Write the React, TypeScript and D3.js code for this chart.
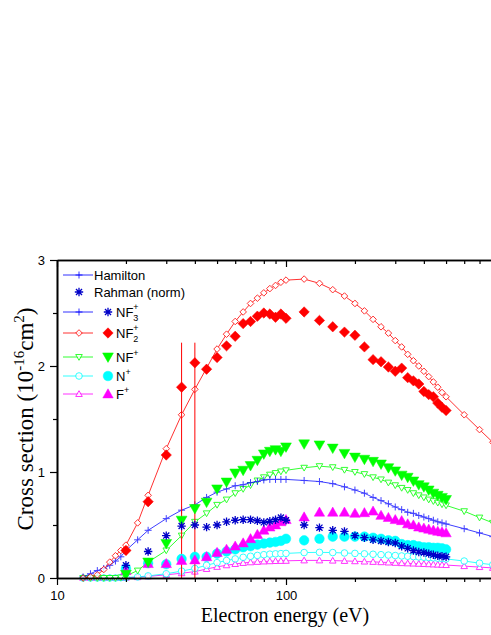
import React, { useEffect, useRef } from "react";
import * as d3 from "d3";

// Hamilton calculation energies (eV)
const calcEnergy = [
  13, 14, 15, 16, 17, 18, 19, 20, 22.5, 25, 30, 35, 40, 45, 50, 55, 60, 65, 70, 75, 80, 85, 90, 95, 100,
  120, 140, 160, 180, 200, 220, 240, 260, 280, 300, 320, 340, 360, 380, 400, 420, 440, 460, 480, 500,
  600, 700, 800, 900, 1000,
];
const nf3Calc = [
  0.01, 0.04, 0.07, 0.09, 0.12, 0.16, 0.2, 0.26, 0.36, 0.45, 0.56, 0.64, 0.69, 0.76, 0.81, 0.84, 0.87, 0.88, 0.9, 0.91, 0.925, 0.93, 0.93, 0.93, 0.93,
  0.92, 0.91, 0.89, 0.86, 0.83, 0.8, 0.76, 0.73, 0.7, 0.67, 0.645, 0.62, 0.61, 0.59, 0.575, 0.56, 0.545, 0.53, 0.52, 0.51,
  0.465, 0.425, 0.39, 0.36, 0.33,
];
const nf2Calc = [
  0, 0.01, 0.03, 0.08, 0.15, 0.21, 0.26, 0.31, 0.52, 0.78, 1.22, 1.54, 1.78, 1.98, 2.16, 2.3, 2.42, 2.51, 2.59, 2.64, 2.69, 2.73, 2.76, 2.79, 2.81,
  2.82, 2.78, 2.72, 2.66, 2.59, 2.52, 2.44, 2.37, 2.31, 2.24, 2.18, 2.11, 2.05, 2.0, 1.95, 1.9, 1.85, 1.8, 1.75, 1.71,
  1.54, 1.4, 1.28, 1.17, 1.08,
];
const nfCalc = [
  0, 0, 0, 0, 0, 0, 0.005, 0.02, 0.07, 0.15, 0.26, 0.4, 0.53, 0.61, 0.69, 0.74, 0.8, 0.84, 0.875, 0.92, 0.95, 0.975, 0.99, 1.005, 1.016,
  1.04, 1.055, 1.045, 1.02, 1.0, 0.98, 0.95, 0.93, 0.9, 0.875, 0.85, 0.83, 0.8, 0.78, 0.76, 0.74, 0.725, 0.71, 0.695, 0.685,
  0.63, 0.57, 0.52, 0.48, 0.44,
];
const nCalc = [
  0, 0, 0, 0, 0, 0, 0.003, 0.005, 0.01, 0.02, 0.04, 0.065, 0.09, 0.12, 0.145, 0.165, 0.18, 0.195, 0.205, 0.213, 0.22, 0.225, 0.228, 0.23, 0.232,
  0.24, 0.242, 0.24, 0.236, 0.232, 0.228, 0.224, 0.22, 0.216, 0.212, 0.208, 0.205, 0.202, 0.199, 0.196, 0.193, 0.19, 0.187, 0.184, 0.18,
  0.16, 0.14, 0.125, 0.11, 0.1,
];
const fCalc = [
  0, 0, 0, 0, 0, 0, 0, 0.003, 0.008, 0.015, 0.03, 0.045, 0.06, 0.085, 0.105, 0.12, 0.132, 0.142, 0.148, 0.152, 0.156, 0.158, 0.16, 0.161, 0.162,
  0.166, 0.166, 0.164, 0.161, 0.158, 0.155, 0.152, 0.149, 0.146, 0.143, 0.14, 0.138, 0.136, 0.134, 0.132, 0.13, 0.128, 0.126, 0.124, 0.122,
  0.112, 0.103, 0.095, 0.088, 0.082,
];

// Rahman (norm) measurements
const measEnergy = [
  20, 25, 30, 35, 40, 45, 50, 55, 60, 65, 70, 75, 80, 85, 90, 95, 100,
  120, 140, 160, 180, 200, 220, 240, 260, 280, 300, 320, 340, 360, 380, 400, 420, 440, 460, 480, 500,
];
const nf3Meas = [
  0.12, 0.25, 0.4, 0.49, 0.5, 0.48, 0.5, 0.53, 0.545, 0.55, 0.55, 0.54, 0.525, 0.535, 0.55, 0.57, 0.545,
  0.5, 0.475, 0.45, 0.44, 0.4, 0.38, 0.36, 0.35, 0.34, 0.33, 0.3, 0.28, 0.26, 0.245, 0.24, 0.23, 0.22, 0.21, 0.205, 0.2,
];
const nf2Meas = [
  0.26, 0.72, 1.16, 1.8, 2.03, 1.97, 2.08, 2.19, 2.28, 2.4, 2.42, 2.47, 2.5, 2.49, 2.46, 2.49, 2.45,
  2.51, 2.43, 2.37, 2.32, 2.29, 2.18, 2.06, 2.04, 1.99, 1.95, 1.98, 1.89, 1.86, 1.83, 1.76, 1.73, 1.71, 1.65, 1.61, 1.58,
];
const nfMeas = [
  0.035, 0.15, 0.325, 0.545, 0.655, 0.715, 0.84, 0.905, 0.99, 1.016, 1.06, 1.11, 1.17, 1.195, 1.21, 1.195, 1.236,
  1.265, 1.255, 1.225, 1.175, 1.14, 1.12, 1.1, 1.075, 1.04, 1.01, 0.97, 0.95, 0.915, 0.88, 0.86, 0.83, 0.8, 0.78, 0.76, 0.74,
];
const nMeas = [
  0.09, 0.14, 0.13, 0.18, 0.2, 0.2, 0.23, 0.25, 0.27, 0.29, 0.3, 0.315, 0.325, 0.334, 0.34, 0.35, 0.37,
  0.355, 0.37, 0.39, 0.39, 0.39, 0.39, 0.38, 0.37, 0.356, 0.35, 0.32, 0.31, 0.31, 0.3, 0.29, 0.29, 0.285, 0.285, 0.28, 0.27,
];
const fMeas = [
  0.07, 0.135, 0.135, 0.165, 0.17, 0.2, 0.24, 0.27, 0.3, 0.33, 0.37, 0.41, 0.45, 0.48, 0.5, 0.53, 0.55,
  0.575, 0.62, 0.62, 0.62, 0.61, 0.615, 0.63, 0.59, 0.57, 0.55, 0.54, 0.51, 0.5, 0.48, 0.47, 0.46, 0.45, 0.44, 0.434, 0.425,
];

// error bars on NF2+ measurement
const errEnergy = [35, 40];
const errLow = [0, 0];
const errHigh = [2.22, 2.22];

const xMajor = [10, 100];
const xMinor = [20, 30, 40, 50, 60, 70, 80, 90, 200, 300, 400, 500, 600, 700, 800, 900];
const yMajor = [0, 1, 2, 3];
const yMinor = [0.5, 1.5, 2.5];

const sans = "Arial, 'Liberation Sans', Helvetica, sans-serif";
const serif = "'Times New Roman', 'Liberation Serif', Times, serif";

const shapePath = (shape: string, r: number) => {
  switch (shape) {
    case "diamond":
      return `M0,${-r}L${r},0L0,${r}L${-r},0Z`;
    case "up":
      return `M0,${-r}L${r},${r * 0.75}L${-r},${r * 0.75}Z`;
    case "down":
      return `M0,${r}L${r},${-r * 0.75}L${-r},${-r * 0.75}Z`;
    case "plus":
      return `M${-r},0H${r}M0,${-r}V${r}`;
    case "star": {
      const k = r * 0.72;
      return `M${-r},0H${r}M0,${-r}V${r}M${-k},${-k}L${k},${k}M${-k},${k}L${k},${-k}`;
    }
    default:
      return d3.symbol(d3.symbolCircle, Math.PI * r * r)() as string;
  }
};

const App = () => {
  const ref = useRef<SVGSVGElement>(null);

  const width = 491;
  const height = 635;
  const margin = { top: 260, left: 57 };
  const plotRight = 515; // frame continues past the cropped right edge
  const plotBottom = 578;

  useEffect(() => {
    const svg = d3.select(ref.current);
    svg.selectAll("*").remove();

    const x = d3.scaleLog().domain([10, 1000]).range([margin.left, plotRight]);
    const y = d3.scaleLinear().domain([0, 3]).range([plotBottom, margin.top]);

    const mark = (
      g: any,
      xs: number[],
      ys: number[],
      shape: string,
      r: number,
      color: string,
      filled: boolean
    ) => {
      g.selectAll(null)
        .data(ys)
        .enter()
        .append("path")
        .attr("transform", (d: number, i: number) => `translate(${x(xs[i])},${y(d)})`)
        .attr("d", shapePath(shape, r))
        .attr("fill", shape === "plus" || shape === "star" ? "none" : filled ? color : "#fff")
        .attr("stroke", color)
        .attr("stroke-width", shape === "star" ? 1.3 : filled ? 0.5 : 1);
    };

    const line = (g: any, xs: number[], ys: number[], color: string) => {
      const gen = d3
        .line<number>()
        .x((d, i) => x(xs[i]))
        .y((d) => y(d));
      g.append("path").attr("d", gen(ys)).attr("fill", "none").attr("stroke", color).attr("stroke-width", 1);
    };

    const plot = svg.append("g");

    // calculated curves
    const calcSeries = [
      { ys: fCalc, shape: "up", color: "#ff00ff" },
      { ys: nCalc, shape: "circle", color: "#00ffff" },
      { ys: nfCalc, shape: "down", color: "#00ff00" },
      { ys: nf3Calc, shape: "plus", color: "#0000ff" },
      { ys: nf2Calc, shape: "diamond", color: "#ff0000" },
    ];
    calcSeries.forEach((s) => {
      const g = plot.append("g").attr("opacity", s.shape === "plus" ? 0.75 : 0.8);
      line(g, calcEnergy, s.ys, s.color);
      mark(g, calcEnergy, s.ys, s.shape, s.shape === "plus" ? 3.5 : 3.3, s.color, false);
    });

    // error bars
    plot
      .selectAll(null)
      .data(errEnergy)
      .enter()
      .append("line")
      .attr("x1", (d) => x(d))
      .attr("x2", (d) => x(d))
      .attr("y1", (d, i) => y(errLow[i]))
      .attr("y2", (d, i) => y(errHigh[i]))
      .attr("stroke", "#ff0000")
      .attr("stroke-width", 1);

    // measurements
    mark(plot, measEnergy, nMeas, "circle", 4.8, "#00ffff", true);
    mark(plot, measEnergy, fMeas, "up", 5.2, "#ff00ff", true);
    mark(plot, measEnergy, nfMeas, "down", 5.4, "#00ff00", true);
    mark(plot, measEnergy, nf3Meas, "star", 4.2, "#0000c8", false);
    mark(plot, measEnergy, nf2Meas, "diamond", 5.2, "#ff0000", true);

    // axes
    const axes = svg.append("g").attr("font-family", sans);
    const styleAxis = (g: any) => {
      g.select(".domain").attr("stroke-width", 1.6);
      g.selectAll(".tick line").attr("stroke-width", 1.2);
      g.selectAll(".tick text").attr("font-size", 13).attr("font-family", sans).attr("fill", "#000");
    };

    axes
      .append("g")
      .attr("transform", `translate(0,${plotBottom})`)
      .call(d3.axisBottom(x).tickValues(xMinor).tickSize(4).tickSizeOuter(0).tickFormat(() => ""))
      .call(styleAxis);
    axes
      .append("g")
      .attr("transform", `translate(0,${plotBottom})`)
      .call(d3.axisBottom(x).tickValues(xMajor).tickSize(7).tickPadding(6).tickSizeOuter(0).tickFormat(d3.format("d")))
      .call(styleAxis);
    axes
      .append("g")
      .attr("transform", `translate(0,${margin.top})`)
      .call(d3.axisTop(x).tickValues(xMinor).tickSize(-4).tickSizeOuter(0).tickFormat(() => ""))
      .call(styleAxis);
    axes
      .append("g")
      .attr("transform", `translate(0,${margin.top})`)
      .call(d3.axisTop(x).tickValues(xMajor).tickSize(-7).tickSizeOuter(0).tickFormat(() => ""))
      .call(styleAxis);
    axes
      .append("g")
      .attr("transform", `translate(${margin.left},0)`)
      .call(d3.axisLeft(y).tickValues(yMinor).tickSize(4).tickSizeOuter(0).tickFormat(() => ""))
      .call(styleAxis);
    axes
      .append("g")
      .attr("transform", `translate(${margin.left},0)`)
      .call(d3.axisLeft(y).tickValues(yMajor).tickSize(7).tickPadding(5).tickSizeOuter(0).tickFormat(d3.format("d")))
      .call(styleAxis);

    // axis titles
    svg
      .append("text")
      .attr("x", 285)
      .attr("y", 622)
      .attr("text-anchor", "middle")
      .attr("font-family", serif)
      .attr("font-size", 20)
      .text("Electron energy (eV)");

    const yt = svg
      .append("text")
      .attr("transform", `translate(33,419) rotate(-90)`)
      .attr("text-anchor", "middle")
      .attr("font-family", serif)
      .attr("font-size", 23);
    yt.append("tspan").text("Cross section  (10");
    yt.append("tspan").attr("font-size", 15).attr("dy", -9).text("-16");
    yt.append("tspan").attr("dy", 9).text("cm");
    yt.append("tspan").attr("font-size", 15).attr("dy", -9).text("2");
    yt.append("tspan").attr("dy", 9).text(")");

    // legend
    const leg = svg.append("g").attr("font-family", sans).attr("font-size", 13);
    const lx1 = 63;
    const lx2 = 93;
    const lm = 79;
    const fx = 108;

    const legLine = (yy: number, color: string, shape: string) => {
      leg.append("line").attr("x1", lx1).attr("x2", lx2).attr("y1", yy).attr("y2", yy).attr("stroke", color).attr("stroke-width", 1).attr("opacity", 0.8);
      leg
        .append("path")
        .attr("transform", `translate(${lm},${yy})`)
        .attr("d", shapePath(shape, shape === "plus" ? 3.5 : 3.3))
        .attr("fill", shape === "plus" ? "none" : "#fff")
        .attr("stroke", color)
        .attr("opacity", 0.8);
    };
    const legMark = (xx: number, yy: number, color: string, shape: string, r: number) => {
      leg
        .append("path")
        .attr("transform", `translate(${xx},${yy})`)
        .attr("d", shapePath(shape, r))
        .attr("fill", shape === "star" ? "none" : color)
        .attr("stroke", color)
        .attr("stroke-width", shape === "star" ? 1.3 : 0.5);
    };

    legLine(275, "#0000ff", "plus");
    leg.append("text").attr("x", 94).attr("y", 279.5).text("Hamilton");

    legMark(lm, 292, "#0000c8", "star", 4.2);
    leg.append("text").attr("x", 94).attr("y", 296.5).text("Rahman (norm)");

    const rows = [
      { y: 312, color: "#0000ff", shape: "plus", fcolor: "#0000c8", fshape: "star", r: 4.2, base: "NF", sub: "3", sup: "+" },
      { y: 333, color: "#ff0000", shape: "diamond", fcolor: "#ff0000", fshape: "diamond", r: 5.2, base: "NF", sub: "2", sup: "+" },
      { y: 357, color: "#00ff00", shape: "down", fcolor: "#00ff00", fshape: "down", r: 5.4, base: "NF", sub: "", sup: "+" },
      { y: 376, color: "#00ffff", shape: "circle", fcolor: "#00ffff", fshape: "circle", r: 4.8, base: "N", sub: "", sup: "+" },
      { y: 394, color: "#ff00ff", shape: "up", fcolor: "#ff00ff", fshape: "up", r: 5.2, base: "F", sub: "", sup: "+" },
    ];
    rows.forEach((r) => {
      legLine(r.y, r.color, r.shape);
      legMark(fx, r.y, r.fcolor, r.fshape, r.r);
      const t = leg.append("text").attr("x", 116).attr("y", r.y + 5);
      t.append("tspan").text(r.base);
      if (r.sub) {
        t.append("tspan").attr("font-size", 9).attr("dy", 4).text(r.sub);
        t.append("tspan").attr("font-size", 9).attr("dx", -5).attr("dy", -11).text(r.sup);
      } else {
        t.append("tspan").attr("font-size", 9).attr("dy", -6).text(r.sup);
      }
    });
  }, []);

  return (
    <svg
      ref={ref}
      width={width}
      height={height}
      style={{ position: "absolute", left: 0, top: 0, background: "#fff" }}
    />
  );
};

export default App;
